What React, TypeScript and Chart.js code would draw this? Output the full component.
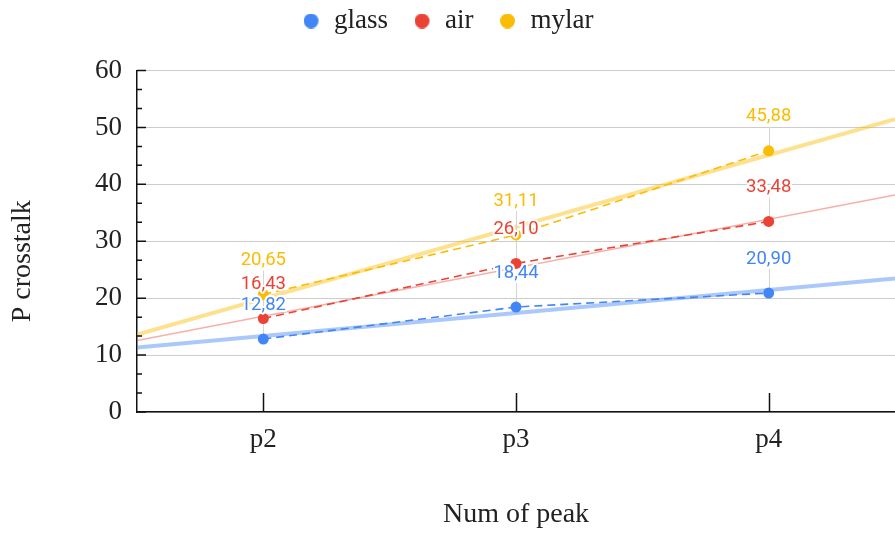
import React, { useEffect, useRef } from 'react';
import { Chart, registerables } from 'chart.js';

Chart.register(...registerables);

// ---- data ----
const categories = ['p2', 'p3', 'p4'];
const seriesNames = ['glass', 'air', 'mylar'];
const glassValues = [12.82, 18.44, 20.9];
const airValues = [16.43, 26.1, 33.48];
const mylarValues = [20.65, 31.11, 45.88];
const yTickValues = [0, 10, 20, 30, 40, 50, 60];
const xAxisTitle = 'Num of peak';
const yAxisTitle = 'P crosstalk';

// ---- styles ----
const SERIF = '"Liberation Serif", "Times New Roman", Times, serif';
const SANS = 'Roboto, "Noto Sans", Arial, sans-serif';
const TEXT = '#222222';
const AXIS = '#111111';
const seriesColors = ['#4285F4', '#EA4335', '#FBBC04'];
const trendStyles = [
  { color: 'rgba(66,133,244,0.45)', width: 4 },
  { color: 'rgba(234,67,53,0.42)', width: 1.5 },
  { color: 'rgba(251,188,4,0.45)', width: 4 },
];
const LABEL_OFFSET = 34;

function makeLegendDot(color: string) {
  const c = document.createElement('canvas');
  c.width = 17;
  c.height = 15;
  const ctx = c.getContext('2d')!;
  ctx.fillStyle = color;
  ctx.beginPath();
  ctx.arc(7.5, 7.5, 7.5, 0, Math.PI * 2);
  ctx.fill();
  return c;
}

const trendPlugin = {
  id: 'trendAndLeaders',
  beforeDatasetsDraw(chart: any) {
    const { ctx, chartArea } = chart;
    const xs = chart.scales.x;
    const ys = chart.scales.y;
    ctx.save();
    ctx.beginPath();
    ctx.rect(chartArea.left, chartArea.top, chartArea.right - chartArea.left, chartArea.bottom - chartArea.top);
    ctx.clip();
    chart.data.datasets.forEach((ds: any, i: number) => {
      const d: number[] = ds.data;
      const n = d.length;
      const mx = (n - 1) / 2;
      const my = d.reduce((a, b) => a + b, 0) / n;
      let num = 0;
      let den = 0;
      d.forEach((v, k) => {
        num += (k - mx) * (v - my);
        den += (k - mx) * (k - mx);
      });
      const b = num / den;
      const a = my - b * mx;
      const x0 = -0.5;
      const x1 = n - 0.5;
      ctx.strokeStyle = trendStyles[i].color;
      ctx.lineWidth = trendStyles[i].width;
      ctx.setLineDash([]);
      ctx.beginPath();
      ctx.moveTo(xs.getPixelForValue(x0), ys.getPixelForValue(a + b * x0));
      ctx.lineTo(xs.getPixelForValue(x1), ys.getPixelForValue(a + b * x1));
      ctx.stroke();
    });
    ctx.restore();

    // axis tick marks drawn inward
    ctx.save();
    ctx.strokeStyle = AXIS;
    ctx.lineWidth = 1.5;
    ctx.beginPath();
    xs.ticks.forEach((_t: any, k: number) => {
      const px = Math.round(xs.getPixelForTick(k)) + 0.5;
      ctx.moveTo(px, chartArea.bottom);
      ctx.lineTo(px, chartArea.bottom - 19);
    });
    for (let k = 0; k < yTickValues.length; k++) {
      const py = ys.getPixelForValue(yTickValues[k]);
      ctx.moveTo(chartArea.left, py);
      ctx.lineTo(chartArea.left + 9, py);
      if (k < yTickValues.length - 1) {
        const step = yTickValues[k + 1] - yTickValues[k];
        for (const f of [1 / 3, 2 / 3]) {
          const pm = ys.getPixelForValue(yTickValues[k] + step * f);
          ctx.moveTo(chartArea.left, pm);
          ctx.lineTo(chartArea.left + 5, pm);
        }
      }
    }
    ctx.stroke();
    ctx.restore();

    // leader lines
    ctx.save();
    ctx.strokeStyle = '#d4d4d4';
    ctx.lineWidth = 1;
    chart.data.datasets.forEach((_ds: any, i: number) => {
      const meta = chart.getDatasetMeta(i);
      meta.data.forEach((pt: any) => {
        const x = Math.round(pt.x) + 0.5;
        ctx.beginPath();
        ctx.moveTo(x, pt.y - LABEL_OFFSET + 10);
        ctx.lineTo(x, pt.y);
        ctx.stroke();
      });
    });
    ctx.restore();
  },
  afterDatasetsDraw(chart: any) {
    const { ctx } = chart;
    ctx.save();
    ctx.font = `18.5px ${SANS}`;
    ctx.textAlign = 'center';
    ctx.textBaseline = 'middle';
    ctx.lineJoin = 'round';
    chart.data.datasets.forEach((ds: any, i: number) => {
      const meta = chart.getDatasetMeta(i);
      meta.data.forEach((pt: any, j: number) => {
        const txt = Number(ds.data[j]).toFixed(2).replace('.', ',');
        const y = pt.y - LABEL_OFFSET;
        ctx.strokeStyle = '#ffffff';
        ctx.lineWidth = 4;
        ctx.strokeText(txt, pt.x, y);
        ctx.fillStyle = seriesColors[i];
        ctx.fillText(txt, pt.x, y);
      });
    });
    ctx.restore();
  },
  afterDraw(chart: any) {
    const { ctx, chartArea } = chart;
    const text = chart.options.scales.y.title.text;
    ctx.save();
    ctx.translate(23, (chartArea.top + chartArea.bottom) / 2 + 20);
    ctx.rotate(-Math.PI / 2);
    ctx.font = `28px ${SERIF}`;
    ctx.fillStyle = TEXT;
    ctx.textAlign = 'center';
    ctx.textBaseline = 'middle';
    ctx.fillText(text, 0, 0);
    ctx.restore();
  },
};

export default function App() {
  const ref = useRef<HTMLCanvasElement | null>(null);

  useEffect(() => {
    if (!ref.current) return;
    const valueSets = [glassValues, airValues, mylarValues];
    const dots = seriesColors.map(makeLegendDot);
    const chart = new Chart(ref.current, {
      type: 'line',
      data: {
        labels: categories,
        datasets: seriesNames.map((name, i) => ({
          label: name,
          data: valueSets[i],
          borderColor: seriesColors[i],
          backgroundColor: seriesColors[i],
          borderWidth: 1.6,
          borderDash: [8, 5],
          pointRadius: 5.5,
          pointBorderWidth: 0,
          pointBackgroundColor: seriesColors[i],
          pointStyle: 'circle',
          fill: false,
          tension: 0,
        })),
      },
      options: {
        animation: false,
        responsive: true,
        maintainAspectRatio: false,
        layout: { autoPadding: false, padding: { top: -19, right: -2, left: 0, bottom: 0 } },
        plugins: {
          legend: {
            position: 'top',
            align: 'center',
            labels: {
              usePointStyle: true,
              boxWidth: 17,
              boxHeight: 15,
              padding: 26.5,
              color: TEXT,
              font: { family: SERIF, size: 27 },
              generateLabels: (c: any) =>
                Chart.defaults.plugins.legend.labels
                  .generateLabels(c)
                  .map((l: any) => ({ ...l, pointStyle: dots[l.datasetIndex] })),
            },
          },
          title: {
            display: true,
            text: '',
            weight: 500,
            padding: { top: 25, bottom: 0 },
            font: { size: 1, lineHeight: 1 },
          },
          tooltip: { enabled: false },
        },
        scales: {
          x: {
            type: 'category',
            offset: true,
            grid: { display: false, drawTicks: false },
            border: { display: true, color: AXIS, width: 1.5 },
            ticks: { color: TEXT, font: { family: SERIF, size: 27 }, padding: 12 },
            title: {
              display: true,
              text: xAxisTitle,
              color: TEXT,
              font: { family: SERIF, size: 28 },
              padding: { top: 0, bottom: 4 },
            },
            afterFit: (s: any) => {
              s.height = 123;
            },
          },
          y: {
            type: 'linear',
            min: 0,
            max: 60,
            afterBuildTicks: (s: any) => {
              s.ticks = yTickValues.map((v) => ({ value: v }));
            },
            grid: { color: '#cccccc', lineWidth: 1, drawTicks: false },
            border: { display: true, color: AXIS, width: 1.5 },
            ticks: { color: TEXT, font: { family: SERIF, size: 27 }, padding: 15 },
            title: { display: false, text: yAxisTitle },
            afterFit: (s: any) => {
              s.width = 137;
            },
          },
        },
      },
      plugins: [trendPlugin],
    } as any);
    return () => chart.destroy();
  }, []);

  return (
    <div style={{ position: 'fixed', left: 0, top: 0, width: 895, height: 535, background: '#fff' }}>
      <canvas ref={ref} />
    </div>
  );
}
